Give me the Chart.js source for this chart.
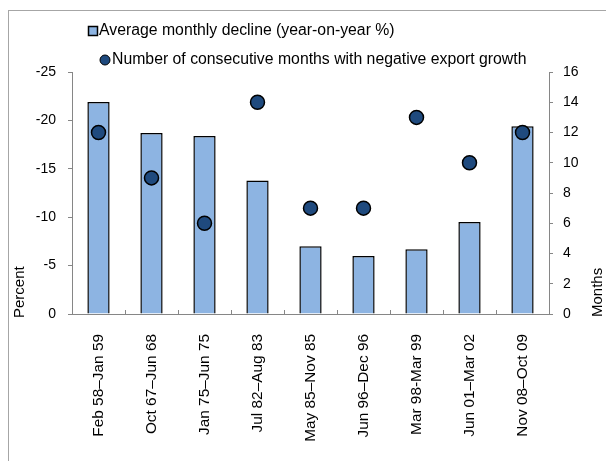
<!DOCTYPE html>
<html>
<head>
<meta charset="utf-8">
<script src="https://cdn.jsdelivr.net/npm/chart.js@4.4.1/dist/chart.umd.min.js"></script>
<style>
  html, body { margin: 0; padding: 0; background: #ffffff; }
  #wrap { width: 606px; height: 461px; position: relative; }
</style>
</head>
<body>
<div id="wrap"><canvas id="chart" width="606" height="461"></canvas></div>
<script>
// Export slumps: average monthly y/y decline and length of each episode
const periods = [
  'Feb 58\u2013Jan 59', 'Oct 67\u2013Jun 68', 'Jan 75\u2013Jun 75',
  'Jul 82\u2013Aug 83', 'May 85\u2013Nov 85', 'Jun 96\u2013Dec 96',
  'Mar 98-Mar 99', 'Jun 01\u2013Mar 02', 'Nov 08\u2013Oct 09'
];
const avgDecline = [-21.9, -18.7, -18.4, -13.8, -7.0, -6.0, -6.7, -9.5, -19.4];
const negMonths = [12, 9, 6, 14, 7, 7, 13, 10, 12];
const seriesNames = [
  'Average monthly decline (year-on-year %)',
  'Number of consecutive months with negative export growth'
];
const axisTitles = ['Percent', 'Months'];

const FONT = '"Liberation Sans", Arial, sans-serif';
const AXIS_GREY = '#868686';
const BAR_FILL = '#8db4e2';
const DOT_FILL = '#1f4a7e';

// Outer frame behind the chart
const framePlugin = {
  id: 'frame',
  beforeDraw(chart) {
    const ctx = chart.ctx;
    ctx.save();
    ctx.strokeStyle = '#a6a6a6';
    ctx.lineWidth = 1;
    ctx.strokeRect(8.5, 10.5, 800, 800);
    ctx.restore();
  }
};

// Series key (two rows) and the rotated axis titles
const annotatePlugin = {
  id: 'annotate',
  afterDraw(chart) {
    const ctx = chart.ctx;
    const area = chart.chartArea;
    const x0 = area.left + 16;
    ctx.save();
    ctx.font = '15.8px ' + FONT;
    ctx.textBaseline = 'middle';
    ctx.textAlign = 'left';

    // row 1: bar swatch
    const y1 = 31;
    ctx.fillStyle = BAR_FILL;
    ctx.fillRect(x0 + 0.5, y1 - 4.5, 9, 9);
    ctx.strokeStyle = '#000';
    ctx.lineWidth = 1.5;
    ctx.strokeRect(x0 + 0.5, y1 - 4.5, 9, 9);
    ctx.fillStyle = '#000';
    ctx.fillText(chart.data.datasets[1].label, x0 + 11, y1);

    // row 2: dot swatch, set further in than the bar swatch
    const y2 = 60;
    const cx = x0 + 17;
    ctx.beginPath();
    ctx.arc(cx, y2, 5, 0, Math.PI * 2);
    ctx.fillStyle = DOT_FILL;
    ctx.fill();
    ctx.lineWidth = 1;
    ctx.strokeStyle = '#000';
    ctx.stroke();
    ctx.fillStyle = '#000';
    ctx.fillText(chart.data.datasets[0].label, cx + 7, y2);

    // axis titles, reading bottom to top, starting near the baseline
    ctx.font = '15px ' + FONT;
    ctx.save();
    ctx.translate(20, area.bottom + 4);
    ctx.rotate(-Math.PI / 2);
    ctx.fillText(axisTitles[0], 0, 0);
    ctx.restore();
    ctx.save();
    ctx.translate(598, area.bottom + 3);
    ctx.rotate(-Math.PI / 2);
    ctx.fillText(axisTitles[1], 0, 0);
    ctx.restore();
    ctx.restore();
  }
};

new Chart(document.getElementById('chart'), {
  type: 'bar',
  data: {
    labels: periods,
    datasets: [
      {
        type: 'line',
        label: seriesNames[1],
        data: negMonths,
        yAxisID: 'y1',
        showLine: false,
        pointRadius: 7,
        pointBackgroundColor: DOT_FILL,
        pointBorderColor: '#000',
        pointBorderWidth: 1.5,
        order: 0
      },
      {
        type: 'bar',
        label: seriesNames[0],
        data: avgDecline,
        yAxisID: 'y',
        backgroundColor: BAR_FILL,
        borderColor: '#000',
        borderWidth: 1.5,
        barPercentage: 0.42,
        categoryPercentage: 1.0,
        order: 1
      }
    ]
  },
  options: {
    responsive: false,
    animation: false,
    devicePixelRatio: 1,
    layout: { padding: { top: 72, left: 0, right: 0, bottom: 0 } },
    plugins: {
      legend: { display: false },
      tooltip: { enabled: false }
    },
    scales: {
      x: {
        offset: true,
        grid: {
          offset: true,
          drawOnChartArea: false,
          tickLength: -4,
          color: AXIS_GREY
        },
        border: { color: AXIS_GREY, width: 1 },
        ticks: {
          minRotation: 90,
          maxRotation: 90,
          padding: 24,
          color: '#000',
          font: { family: FONT, size: 15.4 }
        },
        afterFit(scale) { scale.height = 147; }
      },
      y: {
        position: 'left',
        min: -25,
        max: 0,
        reverse: true,
        grid: { drawOnChartArea: false, tickLength: 4, color: AXIS_GREY },
        border: { color: AXIS_GREY, width: 1 },
        ticks: {
          stepSize: 5,
          padding: 12,
          color: '#000',
          font: { family: FONT, size: 14 }
        },
        afterFit(scale) { scale.width = 72; }
      },
      y1: {
        position: 'right',
        min: 0,
        max: 16,
        grid: { drawOnChartArea: false, tickLength: 4, color: AXIS_GREY },
        border: { color: AXIS_GREY, width: 1 },
        ticks: {
          stepSize: 2,
          padding: 10,
          color: '#000',
          font: { family: FONT, size: 14 }
        },
        afterFit(scale) { scale.width = 57; }
      }
    }
  },
  plugins: [framePlugin, annotatePlugin]
});
</script>
</body>
</html>
